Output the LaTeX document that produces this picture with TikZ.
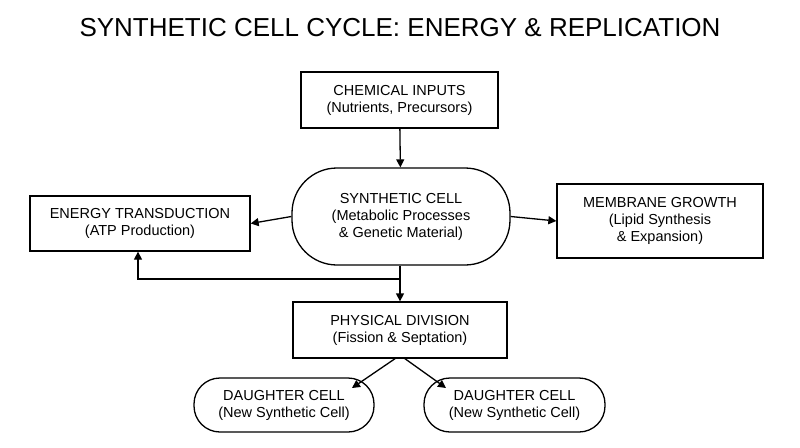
\documentclass[tikz,border=0pt]{standalone}
\usepackage{fontspec}
\setmainfont{Liberation Sans}
\usetikzlibrary{arrows.meta}
\begin{document}
\begin{tikzpicture}[x=1pt,y=-1pt,
  box/.style={draw,line width=1.3pt,align=center,font=\fontsize{14.5}{17}\selectfont,inner sep=0pt},
  arr/.style={line width=1.3pt,-{Triangle[length=8pt,width=8pt]}}]
\useasboundingbox[fill=white] (0,0) rectangle (800,447);
\node (title) at (400,28) {\fontsize{26}{30}\selectfont SYNTHETIC CELL CYCLE: ENERGY \& REPLICATION};
\node[box,minimum width=197pt,minimum height=56pt] (chem) at (399.5,100) {CHEMICAL INPUTS\\(Nutrients, Precursors)};
\node[box,rounded corners=45pt,minimum width=218pt,minimum height=97pt] (cell) at (401,216.5) {SYNTHETIC CELL\\(Metabolic Processes\\\& Genetic Material)};
\node[box,minimum width=220pt,minimum height=55pt] (energy) at (140,223.5) {ENERGY TRANSDUCTION\\(ATP Production)};
\node[box,minimum width=206pt,minimum height=74pt] (mem) at (660,221) {MEMBRANE GROWTH\\(Lipid Synthesis\\\& Expansion)};
\node[box,minimum width=214pt,minimum height=56pt] (div) at (400,330) {PHYSICAL DIVISION\\(Fission \& Septation)};
\node[box,rounded corners=26pt,minimum width=180pt,minimum height=54pt] (d1) at (284,405) {DAUGHTER CELL\\(New Synthetic Cell)};
\node[box,rounded corners=26pt,minimum width=181pt,minimum height=54pt] (d2) at (514.5,405) {DAUGHTER CELL\\(New Synthetic Cell)};
\coordinate (br) at (400,279);
\draw[arr] (chem) -- (cell);
\draw[arr] (cell.west) -- (energy.east);
\draw[arr] (cell.east) -- (mem.west);
\draw[arr] (cell.south -| br) -- (div.north -| br);
\draw[arr] (br) -| ([xshift=-2pt]energy.south);
\draw[arr] (396,358) -- (352,388);
\draw[arr] (404,358) -- (446,388);
\end{tikzpicture}
\end{document}
